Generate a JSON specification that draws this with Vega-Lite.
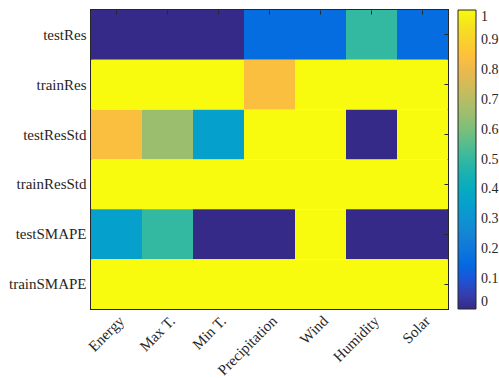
{
  "$schema": "https://vega.github.io/schema/vega-lite/v6.json",
  "width": 357,
  "height": 299,
  "autosize": "none",
  "padding": {"left": 91, "top": 10, "right": 51, "bottom": 69},
  "background": "white",
  "config": {
    "font": "Liberation Serif",
    "view": {"stroke": "#262626", "strokeWidth": 2},
    "axis": {"domain": false, "grid": false, "tickColor": "#262626", "tickSize": -4, "labelColor": "#262626", "labelFont": "Liberation Serif", "labelFontSize": 15, "title": null, "zindex": 1}
  },
  "data": {
    "values": [
      {"metric": "testRes", "feature": "Energy", "value": 0},
      {"metric": "testRes", "feature": "Max T.", "value": 0},
      {"metric": "testRes", "feature": "Min T.", "value": 0},
      {"metric": "testRes", "feature": "Precipitation", "value": 0.16},
      {"metric": "testRes", "feature": "Wind", "value": 0.16},
      {"metric": "testRes", "feature": "Humidity", "value": 0.5},
      {"metric": "testRes", "feature": "Solar", "value": 0.16},
      {"metric": "trainRes", "feature": "Energy", "value": 1},
      {"metric": "trainRes", "feature": "Max T.", "value": 1},
      {"metric": "trainRes", "feature": "Min T.", "value": 1},
      {"metric": "trainRes", "feature": "Precipitation", "value": 0.84},
      {"metric": "trainRes", "feature": "Wind", "value": 1},
      {"metric": "trainRes", "feature": "Humidity", "value": 1},
      {"metric": "trainRes", "feature": "Solar", "value": 1},
      {"metric": "testResStd", "feature": "Energy", "value": 0.84},
      {"metric": "testResStd", "feature": "Max T.", "value": 0.65},
      {"metric": "testResStd", "feature": "Min T.", "value": 0.35},
      {"metric": "testResStd", "feature": "Precipitation", "value": 1},
      {"metric": "testResStd", "feature": "Wind", "value": 1},
      {"metric": "testResStd", "feature": "Humidity", "value": 0},
      {"metric": "testResStd", "feature": "Solar", "value": 1},
      {"metric": "trainResStd", "feature": "Energy", "value": 1},
      {"metric": "trainResStd", "feature": "Max T.", "value": 1},
      {"metric": "trainResStd", "feature": "Min T.", "value": 1},
      {"metric": "trainResStd", "feature": "Precipitation", "value": 1},
      {"metric": "trainResStd", "feature": "Wind", "value": 1},
      {"metric": "trainResStd", "feature": "Humidity", "value": 1},
      {"metric": "trainResStd", "feature": "Solar", "value": 1},
      {"metric": "testSMAPE", "feature": "Energy", "value": 0.35},
      {"metric": "testSMAPE", "feature": "Max T.", "value": 0.5},
      {"metric": "testSMAPE", "feature": "Min T.", "value": 0},
      {"metric": "testSMAPE", "feature": "Precipitation", "value": 0},
      {"metric": "testSMAPE", "feature": "Wind", "value": 1},
      {"metric": "testSMAPE", "feature": "Humidity", "value": 0},
      {"metric": "testSMAPE", "feature": "Solar", "value": 0},
      {"metric": "trainSMAPE", "feature": "Energy", "value": 1},
      {"metric": "trainSMAPE", "feature": "Max T.", "value": 1},
      {"metric": "trainSMAPE", "feature": "Min T.", "value": 1},
      {"metric": "trainSMAPE", "feature": "Precipitation", "value": 1},
      {"metric": "trainSMAPE", "feature": "Wind", "value": 1},
      {"metric": "trainSMAPE", "feature": "Humidity", "value": 1},
      {"metric": "trainSMAPE", "feature": "Solar", "value": 1}
    ]
  },
  "layer": [
    {
      "mark": {"type": "rect"},
      "encoding": {
        "x": {"field": "feature", "type": "nominal", "sort": ["Energy", "Max T.", "Min T.", "Precipitation", "Wind", "Humidity", "Solar"], "scale": {"paddingInner": 0, "paddingOuter": 0},
          "axis": {"labelAngle": -45, "labelAlign": "right", "labelBaseline": "top", "labelPadding": 8, "labelFontSize": 15, "labelLimit": 300, "orient": "bottom"}},
        "y": {"field": "metric", "type": "nominal", "sort": ["testRes", "trainRes", "testResStd", "trainResStd", "testSMAPE", "trainSMAPE"], "scale": {"paddingInner": 0, "paddingOuter": 0},
          "axis": {"orient": "left", "labelPadding": 9}},
        "color": {
          "field": "value", "type": "quantitative",
          "scale": {
            "domain": [0, 0.05, 0.1, 0.15, 0.2, 0.25, 0.3, 0.35, 0.4, 0.45, 0.5, 0.55, 0.6, 0.65, 0.7, 0.75, 0.8, 0.85, 0.9, 0.95, 1],
            "range": ["#352a87", "#353eaf", "#1b55d7", "#036ae1", "#0f77db", "#1484d4", "#0d93d2", "#06a0cd", "#07aac1", "#18b1b2", "#33b8a1", "#55bd8e", "#7abf7c", "#9bbe6e", "#b7bd64", "#d3bb58", "#ecb94c", "#fec13a", "#fad12b", "#f5e31e", "#f9fb0e"],
            "interpolate": "rgb"
          },
          "legend": {
            "title": null, "orient": "none", "legendX": 367, "legendY": 0, "padding": 0,
            "gradientLength": 299, "gradientThickness": 18,
            "gradientStrokeColor": "#262626", "gradientStrokeWidth": 1,
            "values": [0, 0.1, 0.2, 0.3, 0.4, 0.5, 0.6, 0.7, 0.8, 0.9, 1],
            "labelFlush": false, "labelBaseline": "middle", "labelAlign": "left",
            "format": "~g", "labelFont": "Liberation Serif", "labelFontSize": 14, "labelColor": "#262626", "labelOffset": 5
          }
        }
      }
    },
    {
      "mark": {"type": "rect", "opacity": 0},
      "encoding": {
        "x": {"field": "feature", "type": "nominal", "sort": ["Energy", "Max T.", "Min T.", "Precipitation", "Wind", "Humidity", "Solar"], "axis": {"orient": "top", "labels": false, "zindex": 1}},
        "y": {"field": "metric", "type": "nominal", "sort": ["testRes", "trainRes", "testResStd", "trainResStd", "testSMAPE", "trainSMAPE"], "axis": {"orient": "right", "labels": false, "zindex": 1}}
      }
    }
  ],
  "resolve": {"axis": {"x": "independent", "y": "independent"}}
}
